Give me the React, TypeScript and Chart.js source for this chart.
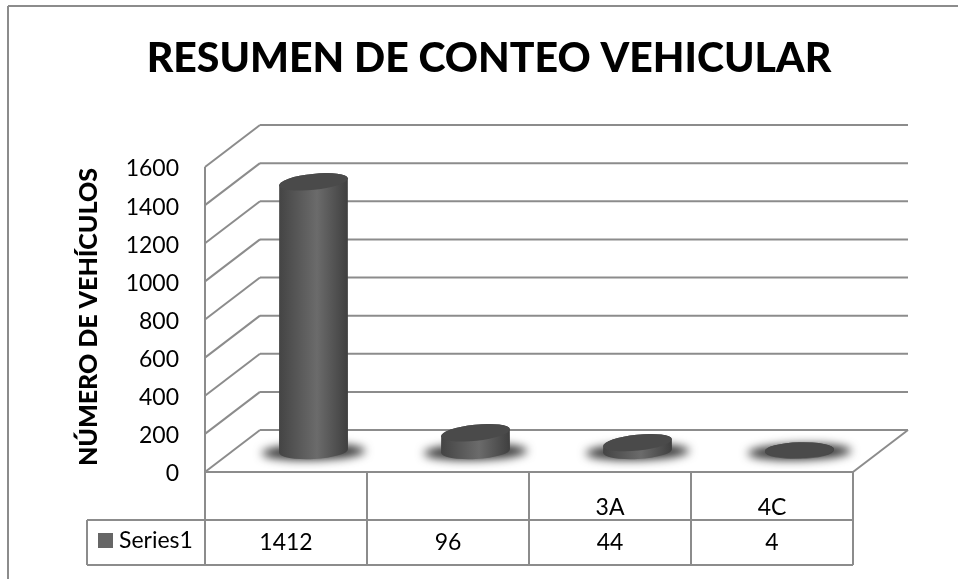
import React, { useEffect, useRef } from "react";
import { Chart, registerables, BarElement } from "chart.js";

const categories = ["", "", "3A", "4C"];
const seriesName = "Series1";
const seriesValues = [1412, 96, 44, 4];
const titleText = "RESUMEN DE CONTEO VEHICULAR";
const yAxisTitle = "NÚMERO DE VEHÍCULOS";

const DX = 27.5;
const DY = 21;
const LINE = "#8c8c8c";
const FONT = "Lato";

class CylinderBar extends BarElement {
  static id = "cylinderBar";
  static defaults = BarElement.defaults;
  static defaultRoutes = BarElement.defaultRoutes;
  draw(ctx: CanvasRenderingContext2D) {
    const { x, y, base, width } = this as any;
    const r = width / 2;
    const ry = 8;
    const height = base - y;
    const rad = Math.PI / 180;
    const topRot = (height < 3 ? -1.5 : -6) * rad;
    const baseRot = (height < 3 ? -1.5 : -3) * rad;
    ctx.save();
    // floor shadow
    ctx.save();
    ctx.filter = "blur(5px)";
    ctx.fillStyle = "#333333";
    ctx.beginPath();
    ctx.ellipse(x, base + 1, r * 1.5, 8, -1.5 * rad, 0, Math.PI * 2);
    ctx.fill();
    ctx.restore();
    // body
    const g = ctx.createLinearGradient(x - r, 0, x + r, 0);
    g.addColorStop(0, "#444444");
    g.addColorStop(0.55, "#6b6b6b");
    g.addColorStop(1, "#3f3f3f");
    ctx.fillStyle = g;
    ctx.beginPath();
    ctx.ellipse(x, base, r, ry, baseRot, 0, Math.PI);
    ctx.ellipse(x, y, r, ry, topRot, Math.PI, Math.PI * 2);
    ctx.closePath();
    ctx.fill();
    // cap
    ctx.fillStyle = "#4a4a4a";
    ctx.beginPath();
    ctx.ellipse(x, y, r, ry, topRot, 0, Math.PI * 2);
    ctx.fill();
    ctx.restore();
  }
}

Chart.register(...registerables, CylinderBar);
(Chart.defaults as any).datasets.bar.dataElementType = "cylinderBar";

const scenePlugin = {
  id: "scene",
  beforeDatasetsDraw(chart: any) {
    const { ctx, chartArea, scales } = chart;
    const { left, right } = chartArea;
    const y = scales.y;
    const x = scales.x;
    ctx.save();
    ctx.strokeStyle = LINE;
    ctx.lineWidth = 2;
    const seg = (a: number, b: number, c: number, d: number) => {
      ctx.beginPath();
      ctx.moveTo(a, b);
      ctx.lineTo(c, d);
      ctx.stroke();
    };
    // outer frame
    seg(8, 579, 8, 6);
    seg(8, 6, 958, 6);
    // walls
    y.ticks.forEach((t: any) => {
      const p = y.getPixelForValue(t.value);
      seg(left - DX, p + DY, left + DX, p - DY);
      seg(left + DX, p - DY, right + DX, p - DY);
    });
    const p0 = y.getPixelForValue(0);
    const pMax = y.getPixelForValue(1600);
    seg(left - DX, pMax + DY, left - DX, p0 + DY);
    seg(right - DX, p0 + DY, right + DX, p0 - DY);
    // data table
    const rowTop = 520;
    const rowBottom = 565;
    const tableLeft = 87;
    seg(left - DX, p0 + DY, right - DX, p0 + DY);
    seg(tableLeft, rowTop, right - DX, rowTop);
    seg(tableLeft, rowBottom, right - DX, rowBottom);
    seg(tableLeft, rowTop, tableLeft, rowBottom);
    const step = x.getPixelForValue(1) - x.getPixelForValue(0);
    for (let i = 0; i <= categories.length; i++) {
      const cx = x.getPixelForValue(0) - step / 2 - DX + i * step;
      seg(cx, p0 + DY, cx, rowBottom);
    }
    // table text
    ctx.fillStyle = "#000";
    ctx.textBaseline = "middle";
    ctx.textAlign = "center";
    ctx.font = `23px ${FONT}`;
    seriesValues.forEach((v, i) => {
      ctx.fillText(String(v), x.getPixelForValue(i) - DX, 543);
    });
    ctx.fillStyle = "#666666";
    ctx.fillRect(98, 533, 15, 15);
    ctx.fillStyle = "#000";
    ctx.textAlign = "left";
    ctx.fillText(seriesName, 119, 541);
    // axis title
    ctx.save();
    ctx.translate(89, 317);
    ctx.rotate(-Math.PI / 2);
    ctx.textAlign = "center";
    ctx.font = `900 25px ${FONT}`;
    ctx.fillText(yAxisTitle, 0, 0);
    ctx.restore();
    ctx.restore();
  },
};

export default function App() {
  const ref = useRef<HTMLCanvasElement>(null);
  useEffect(() => {
    const chart = new Chart(ref.current!, {
      type: "bar",
      data: {
        labels: categories,
        datasets: [
          {
            label: seriesName,
            data: seriesValues,
            backgroundColor: "#666666",
            barPercentage: 0.426,
            categoryPercentage: 1,
            clip: false,
          },
        ],
      },
      plugins: [scenePlugin],
      options: {
        responsive: false,
        animation: false,
        layout: { padding: { left: 97.5, right: 77.5, top: 0, bottom: 0 } },
        plugins: {
          legend: { display: false },
          tooltip: { enabled: false },
          title: {
            display: true,
            text: titleText,
            color: "#000",
            font: { family: FONT, size: 41, weight: "900", lineHeight: 1.2 },
            padding: { top: 34, bottom: 62.8 },
          },
        },
        scales: {
          x: {
            grid: { display: false, drawTicks: false },
            border: { display: false },
            afterFit(s: any) {
              s.height = 128;
            },
            ticks: {
              color: "#000",
              font: { family: FONT, size: 23 },
              padding: 43,
              labelOffset: -DX,
              autoSkip: false,
              maxRotation: 0,
              minRotation: 0,
            },
          },
          y: {
            min: 0,
            max: 1600,
            grid: { display: false, drawTicks: false },
            border: { display: false },
            afterFit(s: any) {
              s.width = 135;
            },
            ticks: {
              stepSize: 200,
              color: "#000",
              font: { family: FONT, size: 23 },
              padding: 53.5,
              labelOffset: DY + 2,
              callback: (v: any) => String(v),
            },
          },
        },
      },
    } as any);
    return () => chart.destroy();
  }, []);
  return (
    <canvas
      ref={ref}
      width={958}
      height={579}
      style={{ position: "absolute", left: 0, top: 0, display: "block", background: "#fff" }}
    />
  );
}
